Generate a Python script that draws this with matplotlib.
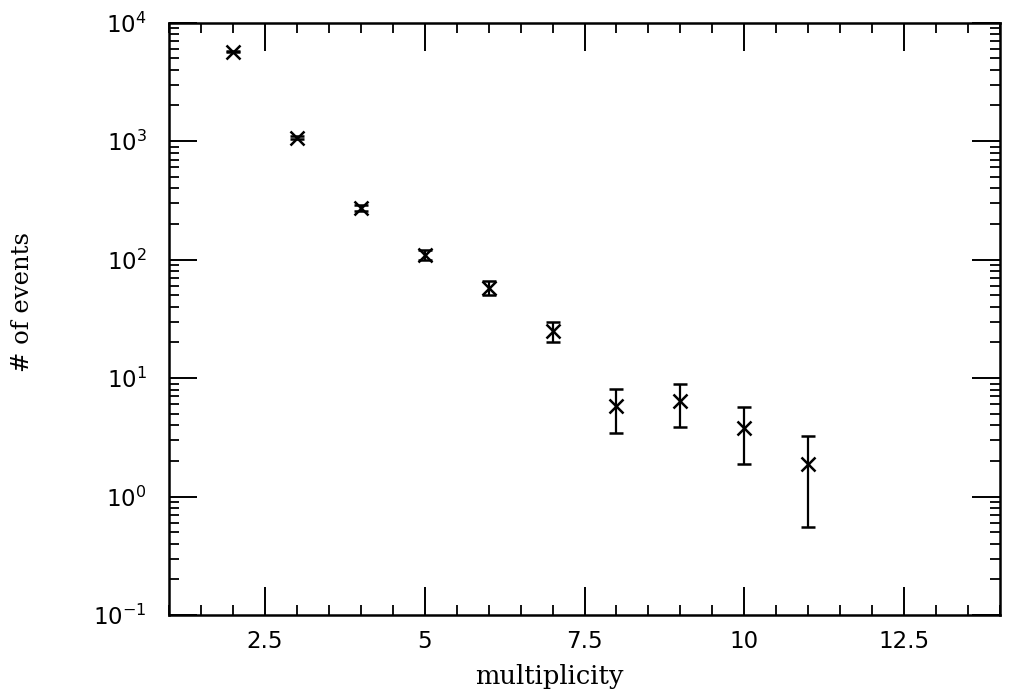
import numpy as np
import matplotlib
matplotlib.use('Agg')
import matplotlib.pyplot as plt
from matplotlib.ticker import LogLocator, MultipleLocator, FixedLocator, FixedFormatter

# multiplicity bins and event counts with their errors
multiplicity = [2, 3, 4, 5, 6, 7, 8, 9, 10, 11]
n_events = [5700, 1070, 272, 110, 58, 25, 5.8, 6.4, 3.8, 1.9]
n_err = [75, 33, 16.5, 10.5, 7.6, 5.0, 2.35, 2.5, 1.9, 1.35]

x_ticks = [2.5, 5, 7.5, 10, 12.5]
x_ticklabels = ['2.5', '5', '7.5', '10', '12.5']

plt.rcParams['mathtext.fontset'] = 'dejavusans'

fig = plt.figure(figsize=(10.13, 6.94), dpi=100)
ax = fig.add_axes([0.1668, 0.1138, 0.8204, 0.8535])

ax.errorbar(multiplicity, n_events, yerr=n_err, fmt='x', color='black',
            markersize=9.5, markeredgewidth=1.8, elinewidth=1.6,
            capsize=4.8, capthick=1.7)

ax.set_yscale('log')
ax.set_xlim(1, 14)
ax.set_ylim(0.1, 1e4)

ax.xaxis.set_major_locator(FixedLocator(x_ticks))
ax.xaxis.set_major_formatter(FixedFormatter(x_ticklabels))
ax.xaxis.set_minor_locator(MultipleLocator(0.5))
ax.yaxis.set_major_locator(LogLocator(base=10, numticks=10))
ax.yaxis.set_minor_locator(LogLocator(base=10, subs=np.arange(2, 10), numticks=10))

ax.tick_params(which='both', direction='in', top=True, right=True, color='black')
ax.tick_params(which='major', length=20, width=1.4, labelsize=16.5)
ax.tick_params(axis='x', which='major', pad=11)
ax.tick_params(axis='y', which='major', pad=16)
ax.tick_params(which='minor', length=7, width=1.3)

for s in ax.spines.values():
    s.set_linewidth(1.8)

ax.set_xlabel('multiplicity', family='DejaVu Serif', fontsize=18.5)
ax.xaxis.set_label_coords(0.458, -0.082)
ax.set_ylabel('# of events', family='DejaVu Serif', fontsize=17.5)
ax.yaxis.set_label_coords(-0.162, 0.528)

fig.savefig('out.png', dpi=100)
